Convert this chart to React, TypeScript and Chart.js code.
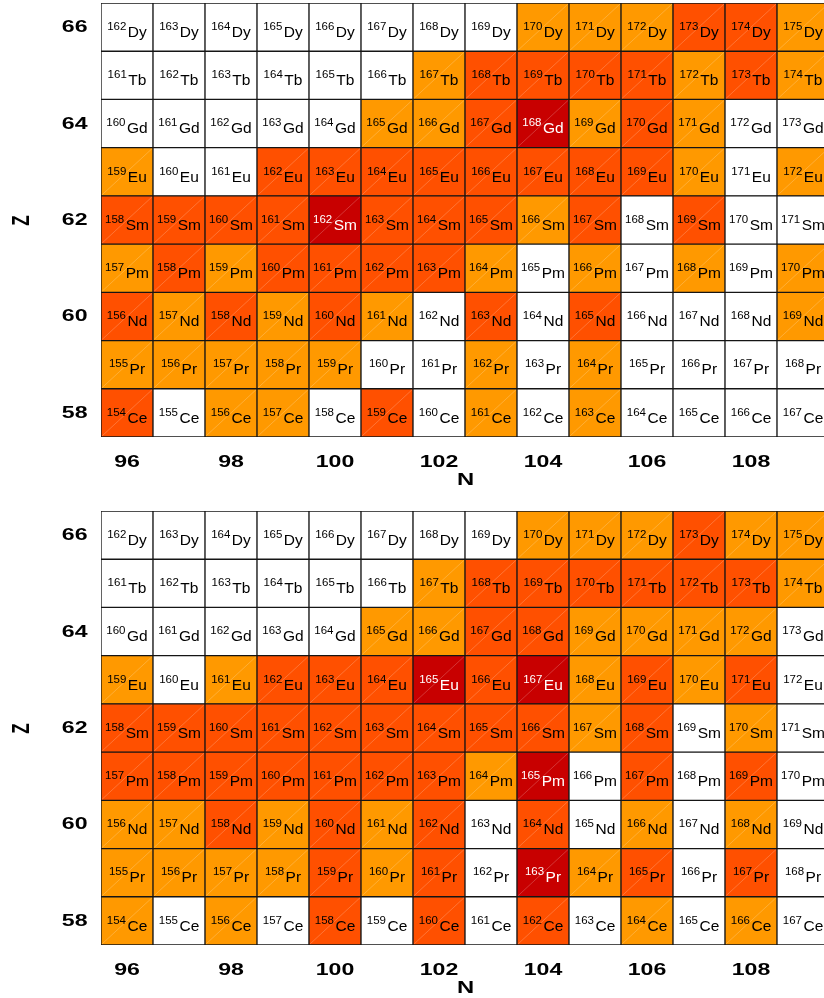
import React, { useEffect, useRef } from 'react';
import { Chart, registerables } from 'chart.js';

Chart.register(...registerables);

// ---- data ----
const zValues = [58, 59, 60, 61, 62, 63, 64, 65, 66];
const elementSymbols = ['Ce', 'Pr', 'Nd', 'Pm', 'Sm', 'Eu', 'Gd', 'Tb', 'Dy'];
const nValues = [96, 97, 98, 99, 100, 101, 102, 103, 104, 105, 106, 107, 108, 109];
const nTickLabels = [96, 98, 100, 102, 104, 106, 108];
const zTickLabels = [58, 60, 62, 64, 66];
// category of each cell: 0 = none, 1 = orange, 2 = red-orange, 3 = dark red
const levelColors = ['#FFFFFF', '#FF9900', '#FF5000', '#C80000'];

// top panel, one row per Z (58..66), across N = 96..109
const topCe = [2, 0, 1, 1, 0, 2, 0, 1, 0, 1, 0, 0, 0, 0];
const topPr = [1, 1, 1, 1, 1, 0, 0, 1, 0, 1, 0, 0, 0, 0];
const topNd = [2, 1, 2, 1, 2, 1, 0, 2, 0, 2, 0, 0, 0, 1];
const topPm = [1, 2, 1, 2, 2, 2, 2, 1, 0, 1, 0, 1, 0, 1];
const topSm = [2, 2, 2, 2, 3, 2, 2, 2, 1, 2, 0, 2, 0, 0];
const topEu = [1, 0, 0, 2, 2, 2, 2, 2, 2, 2, 2, 1, 0, 1];
const topGd = [0, 0, 0, 0, 0, 1, 1, 2, 3, 1, 2, 1, 0, 0];
const topTb = [0, 0, 0, 0, 0, 0, 1, 2, 2, 2, 2, 1, 2, 1];
const topDy = [0, 0, 0, 0, 0, 0, 0, 0, 1, 1, 1, 2, 2, 1];

// bottom panel
const botCe = [1, 0, 1, 0, 2, 0, 2, 0, 2, 0, 1, 0, 1, 0];
const botPr = [1, 1, 1, 1, 2, 1, 2, 0, 3, 1, 2, 0, 2, 0];
const botNd = [1, 1, 2, 1, 2, 1, 2, 0, 2, 0, 1, 0, 1, 0];
const botPm = [2, 2, 2, 2, 2, 2, 2, 1, 3, 0, 2, 0, 2, 0];
const botSm = [2, 2, 2, 2, 2, 2, 2, 2, 2, 1, 2, 0, 1, 0];
const botEu = [1, 0, 1, 2, 2, 2, 3, 2, 3, 1, 2, 1, 2, 0];
const botGd = [0, 0, 0, 0, 0, 1, 1, 2, 2, 1, 1, 1, 1, 0];
const botTb = [0, 0, 0, 0, 0, 0, 1, 2, 2, 2, 2, 2, 2, 1];
const botDy = [0, 0, 0, 0, 0, 0, 0, 0, 1, 1, 1, 2, 1, 1];

const topRows = [topCe, topPr, topNd, topPm, topSm, topEu, topGd, topTb, topDy];
const bottomRows = [botCe, botPr, botNd, botPm, botSm, botEu, botGd, botTb, botDy];

const CANVAS_W = 824;
const CANVAS_H = 508;
const AXIS_FONT = 'bold 16.5px "Liberation Sans", Arial, sans-serif';
const AXIS_STRETCH = 1.4;

function drawStretched(ctx: CanvasRenderingContext2D, text: string, x: number, y: number, align: CanvasTextAlign, rotate = false) {
  ctx.save();
  ctx.translate(x, y);
  ctx.scale(AXIS_STRETCH, 1);
  if (rotate) ctx.rotate(-Math.PI / 2);
  ctx.textAlign = align;
  ctx.textBaseline = 'middle';
  ctx.fillText(text, 0, 0);
  ctx.restore();
}

const cellPlugin = {
  id: 'nuclideCells',
  afterDatasetsDraw(chart: any) {
    const { ctx, chartArea } = chart;
    const xs = chart.scales.x;
    const ys = chart.scales.y;
    ctx.save();
    ctx.beginPath();
    ctx.rect(chartArea.left, chartArea.top, chartArea.right - chartArea.left, chartArea.bottom - chartArea.top);
    ctx.clip();
    chart.data.datasets.forEach((ds: any, zi: number) => {
      const z = zValues[zi];
      nValues.forEach((n, ni) => {
        const level = ds.levels[ni];
        const l = xs.getPixelForValue(n - 0.5);
        const r = xs.getPixelForValue(n + 0.5);
        const t = ys.getPixelForValue(z + 0.5);
        const b = ys.getPixelForValue(z - 0.5);
        if (level > 0) {
          ctx.strokeStyle = 'rgba(255,255,255,0.38)';
          ctx.lineWidth = 0.55;
          ctx.beginPath();
          ctx.moveTo(l + 1, b - 1);
          ctx.lineTo(r - 1, t + 1);
          ctx.stroke();
        }
        const mass = String(z + n);
        const sym = elementSymbols[zi];
        const supFont = '11.5px "Liberation Sans", Arial, sans-serif';
        const symFont = '15.5px "Liberation Sans", Arial, sans-serif';
        ctx.font = supFont;
        const wSup = ctx.measureText(mass).width;
        ctx.font = symFont;
        const wSym = ctx.measureText(sym).width;
        const gap = 1.5;
        const cx = (l + r) / 2;
        const cy = (t + b) / 2;
        const x0 = cx - (wSup + gap + wSym) / 2;
        ctx.fillStyle = level === 3 ? '#FFFFFF' : '#000000';
        ctx.textAlign = 'left';
        ctx.textBaseline = 'alphabetic';
        ctx.font = supFont;
        ctx.fillText(mass, x0, cy + 2.8);
        ctx.font = symFont;
        ctx.fillText(sym, x0 + wSup + gap, cy + 9.8);
      });
    });
    ctx.restore();
  },
  afterDraw(chart: any) {
    const { ctx, chartArea } = chart;
    const xs = chart.scales.x;
    const ys = chart.scales.y;
    ctx.save();
    ctx.fillStyle = '#000000';
    ctx.font = AXIS_FONT;
    xs.ticks.forEach((tk: any) => {
      drawStretched(ctx, String(tk.value), xs.getPixelForValue(tk.value), chartArea.bottom + 25.5, 'center');
    });
    ys.ticks.forEach((tk: any) => {
      drawStretched(ctx, String(tk.value), chartArea.left - 13.5, ys.getPixelForValue(tk.value) + 0.5, 'right');
    });
    ctx.font = 'bold 17px "Liberation Sans", Arial, sans-serif';
    drawStretched(ctx, 'N', (chartArea.left + chartArea.right) / 2 + 3, chartArea.bottom + 43.5, 'center');
    drawStretched(ctx, 'Z', 22.5, (chartArea.top + chartArea.bottom) / 2 + 0.5, 'center', true);
    ctx.restore();
  },
};

function NuclidePanel({ rows }: { rows: number[][] }) {
  const ref = useRef<HTMLCanvasElement>(null);
  useEffect(() => {
    if (!ref.current) return;
    const datasets = zValues.map((z, zi) => ({
      label: elementSymbols[zi],
      data: nValues.map((n) => ({ x: n, y: [z - 0.5, z + 0.5] })),
      levels: rows[zi],
      backgroundColor: rows[zi].map((lv) => levelColors[lv]),
      borderColor: '#151515',
      borderWidth: 1,
      borderSkipped: false,
      grouped: false,
      categoryPercentage: 1,
      barPercentage: 1,
    }));
    const chart = new Chart(ref.current, {
      type: 'bar',
      data: { datasets: datasets as any },
      options: {
        animation: false,
        responsive: false,
        maintainAspectRatio: false,
        layout: { padding: { top: 3, left: 0, right: 0, bottom: 0 } },
        plugins: { legend: { display: false }, tooltip: { enabled: false }, title: { display: false } },
        scales: {
          x: {
            type: 'linear',
            min: 95.5,
            max: 95.5 + 723 / 52,
            offset: false,
            grid: { display: false, drawTicks: false },
            border: { display: false },
            ticks: { display: false },
            afterBuildTicks: (a: any) => {
              a.ticks = nTickLabels.map((v) => ({ value: v }));
            },
            afterFit: (a: any) => {
              a.height = 71;
              a.paddingLeft = 0;
              a.paddingRight = 0;
            },
          },
          y: {
            type: 'linear',
            min: 57.5,
            max: 66.5,
            beginAtZero: false,
            grid: { display: false, drawTicks: false },
            border: { display: false },
            ticks: { display: false },
            afterBuildTicks: (a: any) => {
              a.ticks = zTickLabels.map((v) => ({ value: v }));
            },
            afterFit: (a: any) => {
              a.width = 101;
              a.paddingTop = 0;
              a.paddingBottom = 0;
            },
          },
        },
      } as any,
      plugins: [cellPlugin],
    });
    return () => chart.destroy();
  }, [rows]);
  return (
    <canvas
      ref={ref}
      width={CANVAS_W}
      height={CANVAS_H}
      style={{ display: 'block', width: CANVAS_W, height: CANVAS_H }}
    />
  );
}

export default function App() {
  return (
    <div
      style={{
        position: 'absolute',
        left: 0,
        top: 0,
        width: 824,
        height: 998,
        overflow: 'hidden',
        background: '#FFFFFF',
      }}
    >
      <NuclidePanel rows={topRows} />
      <NuclidePanel rows={bottomRows} />
    </div>
  );
}
